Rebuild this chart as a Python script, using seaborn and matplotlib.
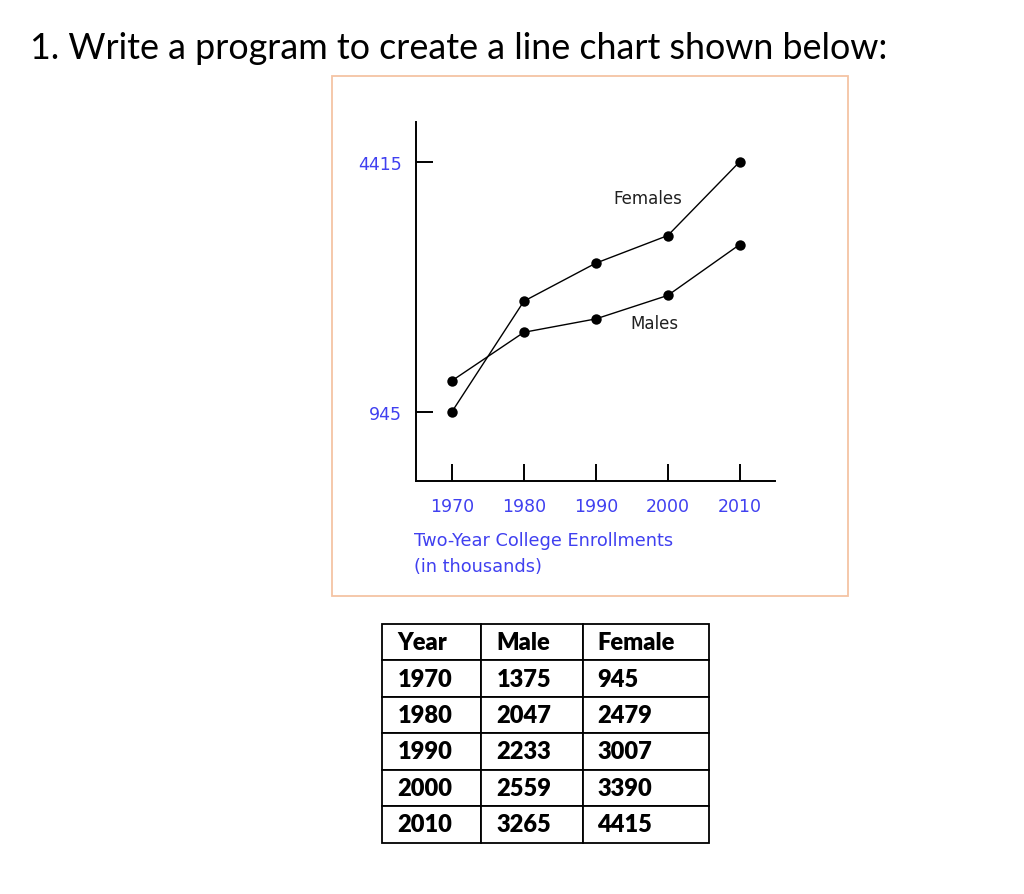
import matplotlib
matplotlib.use("Agg")
import matplotlib.pyplot as plt
import seaborn as sns
import pandas as pd
from matplotlib.patches import Rectangle

# ---- data ----
years = [1970, 1980, 1990, 2000, 2010]
male = [1375, 2047, 2233, 2559, 3265]
female = [945, 2479, 3007, 3390, 4415]
ytick_vals = [945, 4415]
series_names = ["Males", "Females"]
table_header = ["Year", "Male", "Female"]
title_text = "1. Write a program to create a line chart shown below:"
xlabel_lines = ["Two-Year College Enrollments", "(in thousands)"]

sns.set_theme(style="white")
plt.rcParams['font.family'] = ['DejaVu Sans']

W, H = 1024, 895
fig = plt.figure(figsize=(W / 100, H / 100), dpi=100)
fig.patch.set_facecolor("white")

def fx(px):
    return px / W

def fy(py):
    return 1 - py / H

# border box around chart
fig.patches.append(Rectangle((fx(332), fy(597)), fx(848) - fx(332), fy(77) - fy(597),
                             transform=fig.transFigure, fill=False,
                             edgecolor="#f4c4a4", linewidth=1.3))

# title
fig.text(fx(30), fy(59), title_text, ha="left", va="baseline",
         fontsize=25.8, family=["Lato", "DejaVu Sans"], color="black")

# chart axes
ax = fig.add_axes([fx(416), fy(481.7), fx(775) - fx(416), fy(123) - fy(481.7)])
df = pd.DataFrame({
    "year": years * 2,
    "value": male + female,
    "series": [series_names[0]] * len(years) + [series_names[1]] * len(years),
})
sns.lineplot(data=df, x="year", y="value", hue="series",
             palette={"Males": "black", "Females": "black"},
             marker="o", markersize=7.5, markeredgewidth=0,
             linewidth=1.0, legend=False, ax=ax)
ax.set_xlim(1965, 2014.9)
ax.set_ylim(-13, 4966)
ax.set_facecolor("white")
for s in ["top", "right"]:
    ax.spines[s].set_visible(False)
for s in ["left", "bottom"]:
    ax.spines[s].set_color("black")
    ax.spines[s].set_linewidth(1.4)
ax.set_xticks(years)
ax.set_xticklabels([str(y) for y in years])
ax.set_yticks(ytick_vals)
ax.set_yticklabels([str(v) for v in ytick_vals])
ax.tick_params(axis="both", direction="in", length=12.5, width=1.4, color="black",
               labelcolor="#4040f0", labelsize=12.5)
ax.tick_params(axis="x", pad=12, bottom=True)
ax.tick_params(axis="y", pad=10, left=True)
ax.set_xlabel("")
ax.set_ylabel("")
ax.grid(False)

# series labels
ax.text(1997.2, 3910, "Females", ha="center", va="center", fontsize=12, color="#202020")
ax.text(1998.2, 2170, "Males", ha="center", va="center", fontsize=12, color="#202020")

# x label (two lines)
fig.text(fx(414), fy(541), xlabel_lines[0], ha="left", va="center", fontsize=12.8, color="#4040f0")
fig.text(fx(414), fy(567), xlabel_lines[1], ha="left", va="center", fontsize=12.8, color="#4040f0")

# table
tax = fig.add_axes([fx(381.5), fy(843.5), fx(709.3) - fx(381.5), fy(625) - fy(843.5)])
tax.axis("off")
cell_text = [[str(y), str(m), str(f)] for y, m, f in zip(years, male, female)]
col_w = [481 - 381.5, 583.3 - 481, 709.3 - 583.3]
tot = sum(col_w)
tbl = tax.table(cellText=cell_text, colLabels=table_header, cellLoc="left", colLoc="left",
                colWidths=[c / tot for c in col_w], bbox=[0, 0, 1, 1])
tbl.auto_set_font_size(False)
pads = [16 / col_w[0], 15.5 / col_w[1], 14 / col_w[2]]
for (r, c), cell in tbl.get_celld().items():
    cell.set_linewidth(1.3)
    cell.set_edgecolor("black")
    cell.PAD = pads[c]
    t = cell.get_text()
    t.set_fontsize(17)
    t.set_fontweight("heavy")
    t.set_family(["Lato", "DejaVu Sans"])
    t.set_color("black")
    t.set_horizontalalignment("left")

fig.savefig("out.png", dpi=100, facecolor="white")
